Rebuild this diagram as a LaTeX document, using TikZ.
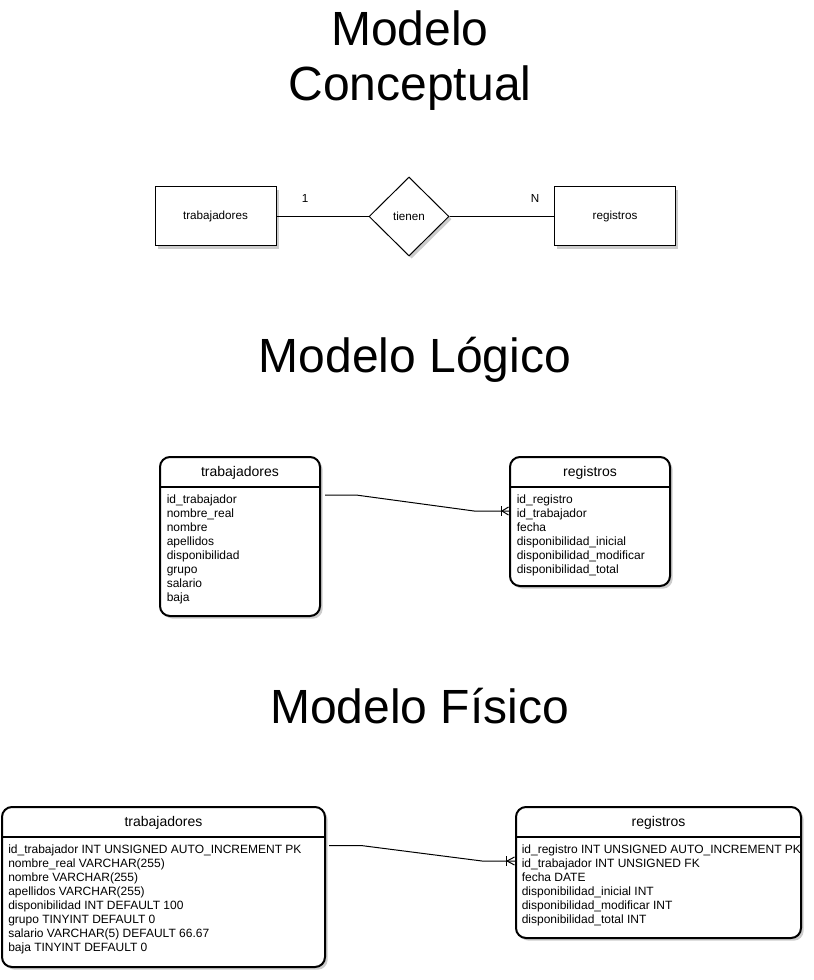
\documentclass[tikz,border=0pt]{standalone}
\usepackage{fontspec}
\setmainfont{Liberation Sans}
\usetikzlibrary{shapes.geometric,shadows,calc}
\begin{document}
\begin{tikzpicture}[x=0.75pt,y=-0.75pt,
  every node/.style={font=\fontsize{9}{10.5}\selectfont},
  shadowed/.style={drop shadow={shadow xshift=2pt,shadow yshift=-2pt,opacity=0.2,fill=black}},
  title/.style={inner sep=0pt,font=\fontsize{36}{41.25}\selectfont,align=center},
  ent/.style={draw,line width=0.75pt,fill=white,minimum width=90.75pt,minimum height=44.25pt,inner sep=0pt,font=\fontsize{8.75}{10}\selectfont,shadowed},
  rel/.style={diamond,aspect=1,draw,line width=0.75pt,fill=white,minimum width=60pt,minimum height=59.25pt,inner sep=0pt,font=\fontsize{8.75}{10}\selectfont,shadowed},
  tbl/.style={draw,line width=1.5pt,rounded corners=7.5pt,fill=white,inner sep=0pt,shadowed},
  thead/.style={font=\fontsize{10.5}{12}\selectfont,inner sep=0pt},
  trow/.style={anchor=west,inner sep=0pt,text height=6.5pt,text depth=2pt},
  card/.style={font=\fontsize{8.75}{10}\selectfont,inner sep=0pt},
  conn/.style={line width=0.75pt,line join=round},
  hline/.style={line width=1.5pt},
]
\useasboundingbox (0,0) rectangle (813,980);
\fill[white] (0,0) rectangle (813,980);

% ---------- Titles ----------
\node[title,anchor=north] (t1) at (410,10.5) {Modelo\\Conceptual};
\node[title,anchor=base] (t2) at (415,372.7) {Modelo Lógico};
\node[title,anchor=base] (t3) at (419.5,723) {Modelo Físico};

% ---------- Conceptual model ----------
\node[ent] (ct) at (215.5,216.5) {trabajadores};
\node[ent] (cr) at (615,216.5) {registros};
\node[rel] (cd) at (409,216.5) {tienen};
\draw[conn] (ct.east) -- (cd.west);
\draw[conn] (cd.east) -- (cr.west);
\node[card] (c1) at (305,198) {1};
\node[card] (cN) at (535,198) {N};

% ---------- Logical model ----------
\node[tbl,minimum width=120pt,minimum height=119.25pt] (lt) at (240,536.5) {};
\node[tbl,minimum width=120pt,minimum height=96.75pt] (lr) at (590,521.5) {};
\draw[hline] (lt.west |- 0,487) -- (lt.east |- 0,487);
\draw[hline] (lr.west |- 0,487) -- (lr.east |- 0,487);
\node[thead] (lth) at (lt.north |- 0,473) {trabajadores};
\node[thead] (lrh) at (lr.north |- 0,473) {registros};
\foreach \t [count=\i from 0] in {id\_trabajador,nombre\_real,nombre,apellidos,disponibilidad,grupo,salario,baja}
  \node[trow] (ltr\i) at (166.5,{500.5+14*\i}) {\t};
\foreach \t [count=\i from 0] in {id\_registro,id\_trabajador,fecha,disponibilidad\_inicial,disponibilidad\_modificar,disponibilidad\_total}
  \node[trow] (lrr\i) at (516.5,{500.5+14*\i}) {\t};
\draw[conn] ($(lt.north east)+(4,39)$) -- ++(31,0) -- ($(lr.north west)+(-35,55)$) -- ($(lr.north west)+(0,55)$);
\draw[conn] ($(lr.north west)+(-7.5,50)$) -- ($(lr.north west)+(-7.5,60)$);
\draw[conn] ($(lr.north west)+(-0.5,51)$) -- ($(lr.north west)+(-7,55)$) -- ($(lr.north west)+(-0.5,59)$);

% ---------- Physical model ----------
\node[tbl,minimum width=242.25pt,minimum height=120pt] (pt) at (163.5,887) {};
\node[tbl,minimum width=213.75pt,minimum height=98.25pt] (pr) at (658.5,872.5) {};
\draw[hline] (pt.west |- 0,837) -- (pt.east |- 0,837);
\draw[hline] (pr.west |- 0,837) -- (pr.east |- 0,837);
\node[thead] (pth) at (pt.north |- 0,823) {trabajadores};
\node[thead] (prh) at (pr.north |- 0,823) {registros};
\foreach \t [count=\i from 0] in {id\_trabajador INT UNSIGNED AUTO\_INCREMENT PK,nombre\_real VARCHAR(255),nombre VARCHAR(255),apellidos VARCHAR(255),disponibilidad INT DEFAULT 100,grupo TINYINT DEFAULT 0,salario VARCHAR(5) DEFAULT 66.67,baja TINYINT DEFAULT 0}
  \node[trow] (ptr\i) at (8,{850.5+14*\i}) {\t};
\foreach \t [count=\i from 0] in {id\_registro INT UNSIGNED AUTO\_INCREMENT PK,id\_trabajador INT UNSIGNED FK,fecha DATE,disponibilidad\_inicial INT,disponibilidad\_modificar INT,disponibilidad\_total INT}
  \node[trow] (prr\i) at (521.5,{850.5+14*\i}) {\t};
\draw[conn] ($(pt.north east)+(3,39.5)$) -- ++(32,0) -- ($(pr.north west)+(-33,55)$) -- ($(pr.north west)+(0,55)$);
\draw[conn] ($(pr.north west)+(-8.5,50)$) -- ($(pr.north west)+(-8.5,60)$);
\draw[conn] ($(pr.north west)+(-0.5,51)$) -- ($(pr.north west)+(-8,55)$) -- ($(pr.north west)+(-0.5,59)$);
\end{tikzpicture}
\end{document}
